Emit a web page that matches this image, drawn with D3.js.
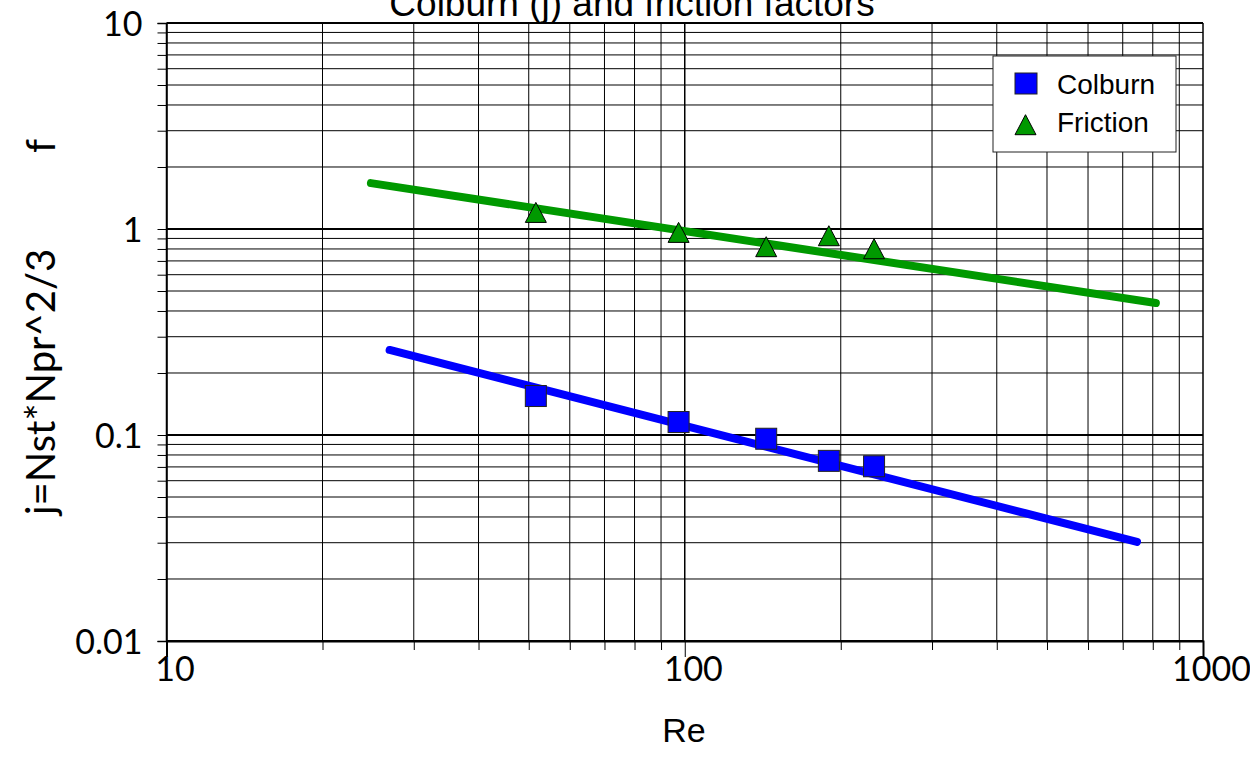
<!DOCTYPE html>
<html>
<head>
<meta charset="utf-8">
<script src="https://cdn.jsdelivr.net/npm/d3@7"></script>
<style>
  html, body { margin: 0; padding: 0; background: #fff; }
  svg { display: block; }
</style>
</head>
<body>
<svg id="chart" width="1250" height="773"></svg>
<script>
// ---- Data ----
const re        = [51.6, 97.3, 143.6, 189.7, 231.9];
const colburn   = [0.1546, 0.1156, 0.0959, 0.0749, 0.0705];
const friction  = [1.16, 0.928, 0.791, 0.894, 0.773];
const colburnFitRe = [26.95, 745.8];
const colburnFit   = [0.2587, 0.0303];
const frictionFitRe = [24.8, 811];
const frictionFit   = [1.67, 0.437];
const xTickLabels = ["10", "100", "1000"];
const yTickLabels = ["0.01", "0.1", "1", "10"];
const seriesNames = ["Colburn", "Friction"];
const titleText = "Colburn (j) and friction factors";
const xTitle = "Re";
const yTitleMain = "j=Nst*Npr^2/3";
const yTitleF = "f";

// ---- Layout ----
const svg = d3.select("#chart");
const L = 166.5, R = 1203, T = 23, B = 641;
const x = d3.scaleLog().domain([10, 1000]).range([L, R]);
const y = d3.scaleLog().domain([0.01, 10]).range([B, T]);

const blue = "#0000ff", green = "#009900";
const gillFont = "Lato, 'Open Sans', sans-serif";
const arialFont = "'Liberation Sans', Arial, sans-serif";

svg.append("rect").attr("width", 1250).attr("height", 773).attr("fill", "#fff");

// minor/major values
const xMinor = [], yMinor = [];
for (let d = 10; d < 1000; d *= 10) for (let k = 2; k <= 9; k++) xMinor.push(d * k);
for (let d = 0.01; d < 9; d *= 10) for (let k = 2; k <= 9; k++) yMinor.push(+(d * k).toPrecision(3));
const xMajor = xTickLabels.map(Number);
const yMajor = yTickLabels.map(Number);

const grid = svg.append("g");
grid.selectAll("line.hm").data(yMinor).join("line")
  .attr("x1", L).attr("x2", R).attr("y1", d => y(d)).attr("y2", d => y(d))
  .attr("stroke", "#000").attr("stroke-width", 1);
grid.selectAll("line.vm").data(xMinor).join("line")
  .attr("y1", T).attr("y2", B).attr("x1", d => x(d)).attr("x2", d => x(d))
  .attr("stroke", "#000").attr("stroke-width", 1);
grid.selectAll("line.hM").data(yMajor).join("line")
  .attr("x1", L).attr("x2", R).attr("y1", d => y(d)).attr("y2", d => y(d))
  .attr("stroke", "#000").attr("stroke-width", 2);
grid.selectAll("line.vM").data(xMajor).join("line")
  .attr("y1", T).attr("y2", B).attr("x1", d => x(d)).attr("x2", d => x(d))
  .attr("stroke", "#000").attr("stroke-width", 1.5);

// ---- Axes ----
const yAxis = d3.axisLeft(y)
  .tickValues(yMajor.concat(yMinor))
  .tickSize(9)
  .tickPadding(6)
  .tickFormat(d => { const i = yMajor.indexOf(d); return i >= 0 ? yTickLabels[i] : ""; });
const gy = svg.append("g").attr("transform", `translate(${L},0)`).call(yAxis);
gy.select(".domain").attr("stroke", "#000").attr("stroke-width", 1.5);
gy.selectAll(".tick line").attr("stroke", "#000");
gy.selectAll(".tick text").attr("font-family", gillFont).attr("font-size", 34)
  .attr("fill", "#000").attr("x", -24).attr("dy", "0.36em");

const xAxisMinor = d3.axisBottom(x).tickValues(xMinor).tickSize(9).tickFormat("");
const gxm = svg.append("g").attr("transform", `translate(0,${B})`).call(xAxisMinor);
gxm.select(".domain").remove();
gxm.selectAll(".tick line").attr("stroke", "#000");

const xAxis = d3.axisBottom(x)
  .tickValues(xMajor).tickSize(16).tickPadding(10)
  .tickFormat((d, i) => xTickLabels[i]);
const gx = svg.append("g").attr("transform", `translate(0,${B})`).call(xAxis);
gx.select(".domain").attr("stroke", "#000").attr("stroke-width", 2);
gx.selectAll(".tick line").attr("stroke", "#000");
gx.selectAll(".tick text").attr("font-family", gillFont).attr("font-size", 34)
  .attr("fill", "#000").attr("y", 16).attr("dy", "0.71em").attr("dx", 8);

// ---- Fit lines ----
const line = d3.line().x(d => x(d[0])).y(d => y(d[1]));
svg.append("path").datum(d3.zip(frictionFitRe, frictionFit))
  .attr("d", line).attr("fill", "none").attr("stroke", green)
  .attr("stroke-width", 8).attr("stroke-linecap", "round");
svg.append("path").datum(d3.zip(colburnFitRe, colburnFit))
  .attr("d", line).attr("fill", "none").attr("stroke", blue)
  .attr("stroke-width", 8).attr("stroke-linecap", "round");

// ---- Markers ----
const triPath = "M0,-13.3L10.5,6.7L-10.5,6.7Z";
svg.append("g").selectAll("path").data(d3.zip(re, friction)).join("path")
  .attr("transform", d => `translate(${x(d[0])},${y(d[1])})`)
  .attr("d", triPath).attr("fill", green).attr("stroke", "#000").attr("stroke-width", 1);
svg.append("g").selectAll("rect").data(d3.zip(re, colburn)).join("rect")
  .attr("x", d => x(d[0]) - 10.5).attr("y", d => y(d[1]) - 10.5)
  .attr("width", 21).attr("height", 21)
  .attr("fill", blue).attr("stroke", "#222").attr("stroke-width", 1);

// ---- Legend ----
const lg = svg.append("g");
lg.append("rect").attr("x", 993).attr("y", 56).attr("width", 183).attr("height", 96)
  .attr("fill", "#fff").attr("stroke", "#222").attr("stroke-width", 1);
lg.append("rect").attr("x", 1015).attr("y", 73).attr("width", 22).attr("height", 21)
  .attr("fill", blue).attr("stroke", "#222").attr("stroke-width", 1);
lg.append("path").attr("transform", "translate(1025.5,128)").attr("d", triPath)
  .attr("fill", green).attr("stroke", "#000").attr("stroke-width", 1);
lg.selectAll("text").data(seriesNames).join("text")
  .attr("x", 1057).attr("y", (d, i) => 94 + i * 38)
  .attr("font-family", arialFont).attr("font-size", 28).attr("fill", "#000")
  .text(d => d);

// ---- Titles ----
svg.append("text").attr("x", 632).attr("y", 16).attr("text-anchor", "middle")
  .attr("font-family", arialFont).attr("font-size", 37).attr("fill", "#000")
  .text(titleText);
svg.append("text").attr("x", 684).attr("y", 742).attr("text-anchor", "middle")
  .attr("font-family", arialFont).attr("font-size", 34).attr("fill", "#000")
  .text(xTitle);
const yt = svg.append("text").attr("transform", "translate(55,515) rotate(-90)")
  .attr("font-family", gillFont).attr("font-size", 40).attr("fill", "#000");
yt.append("tspan").attr("x", 0).text(yTitleMain);
yt.append("tspan").attr("x", 362).text(yTitleF);
</script>
</body>
</html>
